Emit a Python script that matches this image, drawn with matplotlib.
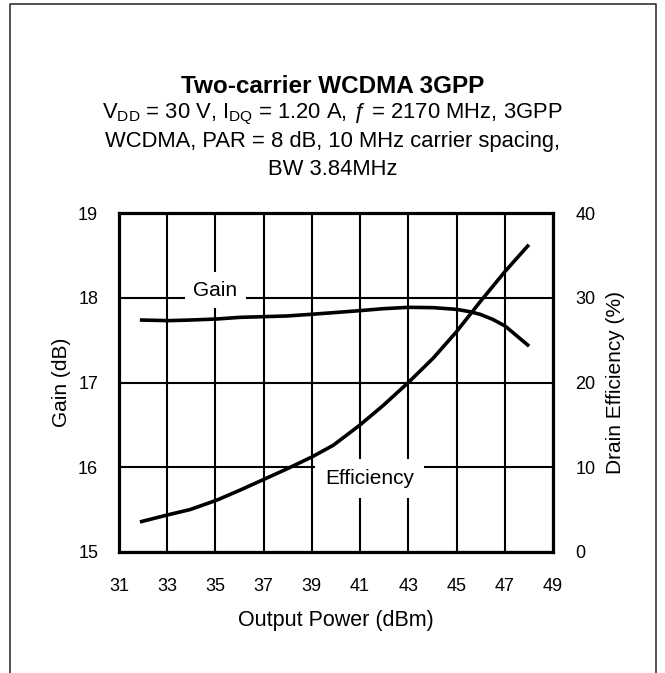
import matplotlib
matplotlib.use("Agg")
import matplotlib.pyplot as plt
from matplotlib.lines import Line2D

plt.rcParams['font.family'] = ['Liberation Sans', 'DejaVu Sans']
plt.rcParams['mathtext.fontset'] = 'custom'
plt.rcParams['mathtext.rm'] = 'Liberation Sans'
plt.rcParams['mathtext.it'] = 'Liberation Sans:italic'

# Data
pout_gain = [31.94, 33.05, 33.94, 35.04, 36.02, 37.03, 37.96, 38.99, 39.89, 41.0,
             41.96, 43.0, 44.04, 45.0, 45.56, 45.97, 46.5, 47.01, 47.95]
gain_db = [17.737, 17.730, 17.737, 17.749, 17.769, 17.777, 17.785, 17.805, 17.824, 17.848,
           17.871, 17.887, 17.883, 17.863, 17.835, 17.805, 17.745, 17.667, 17.443]

pout_eff = [31.94, 33.05, 33.94, 35.04, 36.02, 37.03, 37.96, 38.99, 39.89, 41.0,
            41.96, 43.0, 44.04, 45.0, 45.97, 47.01, 47.95]
eff_pct = [3.6, 4.4, 5.0, 6.1, 7.3, 8.6, 9.8, 11.2, 12.6, 15.0,
           17.3, 20.0, 22.9, 26.0, 29.5, 33.1, 36.1]

x_ticks = [31, 33, 35, 37, 39, 41, 43, 45, 47, 49]
gain_ticks = [15, 16, 17, 18, 19]
eff_ticks = [0, 10, 20, 30, 40]

fig = plt.figure(figsize=(6.65, 6.73), dpi=100)
W, H = 665, 673
ax = fig.add_axes([119 / W, 1 - 552 / H, (553 - 119) / W, (552 - 213) / H])

ax.set_xlim(31, 49)
ax.set_ylim(15, 19)
ax.set_xticks(x_ticks)
ax.set_yticks(gain_ticks)
ax.grid(True, color='black', linewidth=1.5)
ax.set_axisbelow(True)
for s in ax.spines.values():
    s.set_linewidth(2.3)
ax.tick_params(length=0, labelsize=13, pad=15)
ax.tick_params(axis='x', pad=18.5)
ax.set_ylabel('Gain (dB)', fontsize=15, labelpad=5)
ax.set_xlabel('Output Power (dBm)', fontsize=15.5, labelpad=11)

ax2 = ax.twinx()
ax2.set_ylim(0, 40)
ax2.set_yticks(eff_ticks)
ax2.tick_params(length=0, labelsize=13, pad=16)
ax2.set_ylabel('Drain Efficiency (%)', fontsize=15, labelpad=8)
for s in ax2.spines.values():
    s.set_visible(False)

ax.plot(pout_gain, gain_db, color='black', linewidth=2.6, zorder=3)
ax2.plot(pout_eff, eff_pct, color='black', linewidth=2.6, zorder=3)

ax.text(35.0, 18.09, 'Gain', fontsize=15, ha='center', va='center', zorder=4,
        bbox=dict(facecolor='white', edgecolor='none', pad=6))
ax.text(41.4, 15.87, 'Efficiency', fontsize=15, ha='center', va='center', zorder=4,
        bbox=dict(facecolor='white', edgecolor='none', pad=7))

fig.text(0.5, 1 - 93 / H, 'Two-carrier WCDMA 3GPP', fontsize=17.5, fontweight='bold',
         ha='center', va='baseline')
fig.text(0.5, 1 - 118 / H, r'V$_\mathrm{DD}$ = 30 V, I$_\mathrm{DQ}$ = 1.20 A, ƒ = 2170 MHz, 3GPP',
         fontsize=15.8, ha='center', va='baseline')
fig.text(0.5, 1 - 147 / H, 'WCDMA, PAR = 8 dB, 10 MHz carrier spacing,',
         fontsize=15.8, ha='center', va='baseline')
fig.text(0.5, 1 - 175 / H, 'BW 3.84MHz', fontsize=15.8, ha='center', va='baseline')

# outer frame (open at the bottom)
fx0, fx1, fy = 10 / W, 656 / W, 1 - 4 / H
fig.add_artist(Line2D([fx0, fx0, fx1, fx1], [0, fy, fy, 0], color='#333333', linewidth=1.2))

fig.savefig('out.png', dpi=100)
